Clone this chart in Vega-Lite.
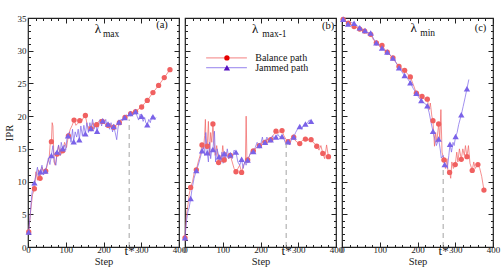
{
"$schema": "https://vega.github.io/schema/vega-lite/v6.json",
"padding": {"top": 13, "left": 3, "right": 5, "bottom": 0},
"bounds": "flush",
"spacing": 6,
"config": {
  "view": {"stroke": "#222", "strokeWidth": 1.2},
  "axis": {"labelFont": "Liberation Serif", "titleFont": "Liberation Serif", "labelFontSize": 9, "titleFontSize": 10.5, "titleFontWeight": "normal", "labelFontWeight": "normal", "labelColor": "#222", "titleColor": "#222", "tickColor": "#222", "grid": false, "domain": false},
  "text": {"font": "Liberation Serif", "color": "#111", "fontWeight": "normal"}
},
"datasets": {
"d": [
{"p":"a","s":"Balance","x":2,"y":2.3,"m":1},{"p":"a","s":"Balance","x":7,"y":5.5,"m":0},{"p":"a","s":"Balance","x":12,"y":8,"m":0},{"p":"a","s":"Balance","x":17,"y":8.9,"m":1},{"p":"a","s":"Balance","x":21,"y":11.5,"m":0},{"p":"a","s":"Balance","x":25,"y":10.2,"m":0},{"p":"a","s":"Balance","x":28,"y":11.8,"m":0},{"p":"a","s":"Balance","x":32,"y":10.5,"m":1},{"p":"a","s":"Balance","x":37,"y":12.2,"m":0},{"p":"a","s":"Balance","x":42,"y":11.5,"m":0},{"p":"a","s":"Balance","x":47,"y":11.6,"m":1},{"p":"a","s":"Balance","x":52,"y":12.8,"m":0},{"p":"a","s":"Balance","x":56,"y":13.5,"m":0},{"p":"a","s":"Balance","x":59,"y":16,"m":0},{"p":"a","s":"Balance","x":62,"y":16.1,"m":1},{"p":"a","s":"Balance","x":64,"y":19,"m":0},{"p":"a","s":"Balance","x":66,"y":18.5,"m":0},{"p":"a","s":"Balance","x":69,"y":13,"m":0},{"p":"a","s":"Balance","x":72,"y":12.5,"m":0},{"p":"a","s":"Balance","x":77,"y":14.2,"m":1},{"p":"a","s":"Balance","x":81,"y":15.5,"m":0},{"p":"a","s":"Balance","x":86,"y":14,"m":0},{"p":"a","s":"Balance","x":92,"y":14.7,"m":1},{"p":"a","s":"Balance","x":97,"y":16,"m":0},{"p":"a","s":"Balance","x":102,"y":15.2,"m":0},{"p":"a","s":"Balance","x":107,"y":17,"m":1},{"p":"a","s":"Balance","x":112,"y":18,"m":0},{"p":"a","s":"Balance","x":117,"y":18.6,"m":0},{"p":"a","s":"Balance","x":122,"y":19.4,"m":1},{"p":"a","s":"Balance","x":127,"y":18.6,"m":0},{"p":"a","s":"Balance","x":132,"y":18.9,"m":0},{"p":"a","s":"Balance","x":137,"y":19.3,"m":1},{"p":"a","s":"Balance","x":142,"y":19.2,"m":0},{"p":"a","s":"Balance","x":147,"y":19.8,"m":0},{"p":"a","s":"Balance","x":152,"y":20.1,"m":1},{"p":"a","s":"Balance","x":157,"y":18.6,"m":0},{"p":"a","s":"Balance","x":162,"y":18.2,"m":0},{"p":"a","s":"Balance","x":167,"y":18.1,"m":1},{"p":"a","s":"Balance","x":172,"y":19,"m":0},{"p":"a","s":"Balance","x":177,"y":18.3,"m":0},{"p":"a","s":"Balance","x":182,"y":18.7,"m":1},{"p":"a","s":"Balance","x":187,"y":19.2,"m":0},{"p":"a","s":"Balance","x":192,"y":19.5,"m":0},{"p":"a","s":"Balance","x":197,"y":19.2,"m":1},{"p":"a","s":"Balance","x":202,"y":18.9,"m":0},{"p":"a","s":"Balance","x":207,"y":18.6,"m":0},{"p":"a","s":"Balance","x":212,"y":18.6,"m":1},{"p":"a","s":"Balance","x":217,"y":18.4,"m":0},{"p":"a","s":"Balance","x":222,"y":18.2,"m":0},{"p":"a","s":"Balance","x":227,"y":18.3,"m":1},{"p":"a","s":"Balance","x":232,"y":18.5,"m":0},{"p":"a","s":"Balance","x":237,"y":18.8,"m":0},{"p":"a","s":"Balance","x":242,"y":19,"m":1},{"p":"a","s":"Balance","x":247,"y":19.4,"m":0},{"p":"a","s":"Balance","x":252,"y":19.6,"m":0},{"p":"a","s":"Balance","x":257,"y":19.8,"m":1},{"p":"a","s":"Balance","x":262,"y":20,"m":0},{"p":"a","s":"Balance","x":267,"y":20.2,"m":0},{"p":"a","s":"Balance","x":272,"y":20.4,"m":1},{"p":"a","s":"Balance","x":278,"y":20.5,"m":0},{"p":"a","s":"Balance","x":285,"y":20.7,"m":1},{"p":"a","s":"Balance","x":291,"y":21,"m":0},{"p":"a","s":"Balance","x":301,"y":21.4,"m":1},{"p":"a","s":"Balance","x":308,"y":21.9,"m":0},{"p":"a","s":"Balance","x":316,"y":22.4,"m":1},{"p":"a","s":"Balance","x":331,"y":23.6,"m":1},{"p":"a","s":"Balance","x":346,"y":24.7,"m":1},{"p":"a","s":"Balance","x":361,"y":25.9,"m":1},{"p":"a","s":"Balance","x":376,"y":27.1,"m":1},
{"p":"a","s":"Jammed","x":2,"y":2.3,"m":1},{"p":"a","s":"Jammed","x":6,"y":5,"m":0},{"p":"a","s":"Jammed","x":10,"y":8,"m":0},{"p":"a","s":"Jammed","x":14,"y":9.5,"m":0},{"p":"a","s":"Jammed","x":17,"y":9.8,"m":1},{"p":"a","s":"Jammed","x":21,"y":11,"m":0},{"p":"a","s":"Jammed","x":25,"y":12.2,"m":0},{"p":"a","s":"Jammed","x":29,"y":10.5,"m":0},{"p":"a","s":"Jammed","x":33,"y":11.5,"m":1},{"p":"a","s":"Jammed","x":37,"y":12.5,"m":0},{"p":"a","s":"Jammed","x":41,"y":11,"m":0},{"p":"a","s":"Jammed","x":46,"y":11.6,"m":1},{"p":"a","s":"Jammed","x":50,"y":12.5,"m":0},{"p":"a","s":"Jammed","x":54,"y":13.6,"m":0},{"p":"a","s":"Jammed","x":58,"y":12.6,"m":0},{"p":"a","s":"Jammed","x":62,"y":14,"m":1},{"p":"a","s":"Jammed","x":66,"y":15.5,"m":0},{"p":"a","s":"Jammed","x":70,"y":13,"m":0},{"p":"a","s":"Jammed","x":74,"y":12.5,"m":0},{"p":"a","s":"Jammed","x":77,"y":14.5,"m":1},{"p":"a","s":"Jammed","x":81,"y":15.6,"m":0},{"p":"a","s":"Jammed","x":85,"y":14,"m":0},{"p":"a","s":"Jammed","x":88,"y":16,"m":0},{"p":"a","s":"Jammed","x":92,"y":15,"m":1},{"p":"a","s":"Jammed","x":96,"y":15.6,"m":0},{"p":"a","s":"Jammed","x":100,"y":14.8,"m":0},{"p":"a","s":"Jammed","x":103,"y":16.5,"m":0},{"p":"a","s":"Jammed","x":106,"y":17,"m":1},{"p":"a","s":"Jammed","x":110,"y":17.6,"m":0},{"p":"a","s":"Jammed","x":114,"y":16,"m":0},{"p":"a","s":"Jammed","x":118,"y":18,"m":0},{"p":"a","s":"Jammed","x":121,"y":16.1,"m":1},{"p":"a","s":"Jammed","x":125,"y":17.6,"m":0},{"p":"a","s":"Jammed","x":129,"y":16.8,"m":0},{"p":"a","s":"Jammed","x":133,"y":18,"m":0},{"p":"a","s":"Jammed","x":136,"y":16.4,"m":1},{"p":"a","s":"Jammed","x":140,"y":18.5,"m":0},{"p":"a","s":"Jammed","x":144,"y":17,"m":0},{"p":"a","s":"Jammed","x":148,"y":18.6,"m":0},{"p":"a","s":"Jammed","x":152,"y":17.3,"m":1},{"p":"a","s":"Jammed","x":156,"y":19,"m":0},{"p":"a","s":"Jammed","x":160,"y":17.5,"m":0},{"p":"a","s":"Jammed","x":164,"y":19,"m":0},{"p":"a","s":"Jammed","x":167,"y":18.1,"m":1},{"p":"a","s":"Jammed","x":171,"y":19.5,"m":0},{"p":"a","s":"Jammed","x":175,"y":18,"m":0},{"p":"a","s":"Jammed","x":179,"y":19,"m":0},{"p":"a","s":"Jammed","x":183,"y":17.7,"m":1},{"p":"a","s":"Jammed","x":187,"y":18.6,"m":0},{"p":"a","s":"Jammed","x":191,"y":19.5,"m":0},{"p":"a","s":"Jammed","x":195,"y":18.5,"m":0},{"p":"a","s":"Jammed","x":198,"y":19.3,"m":1},{"p":"a","s":"Jammed","x":202,"y":18.8,"m":0},{"p":"a","s":"Jammed","x":206,"y":19.5,"m":0},{"p":"a","s":"Jammed","x":209,"y":18.5,"m":0},{"p":"a","s":"Jammed","x":212,"y":18.8,"m":1},{"p":"a","s":"Jammed","x":216,"y":18,"m":0},{"p":"a","s":"Jammed","x":220,"y":19,"m":0},{"p":"a","s":"Jammed","x":224,"y":17.6,"m":0},{"p":"a","s":"Jammed","x":227,"y":18.4,"m":1},{"p":"a","s":"Jammed","x":231,"y":17.5,"m":0},{"p":"a","s":"Jammed","x":235,"y":16.4,"m":0},{"p":"a","s":"Jammed","x":238,"y":18,"m":0},{"p":"a","s":"Jammed","x":241,"y":19.1,"m":1},{"p":"a","s":"Jammed","x":246,"y":19.5,"m":0},{"p":"a","s":"Jammed","x":251,"y":19.3,"m":0},{"p":"a","s":"Jammed","x":256,"y":19.8,"m":1},{"p":"a","s":"Jammed","x":261,"y":20.2,"m":0},{"p":"a","s":"Jammed","x":266,"y":20,"m":0},{"p":"a","s":"Jammed","x":271,"y":20.4,"m":1},{"p":"a","s":"Jammed","x":276,"y":20.5,"m":0},{"p":"a","s":"Jammed","x":280,"y":20.2,"m":0},{"p":"a","s":"Jammed","x":285,"y":20.7,"m":1},{"p":"a","s":"Jammed","x":289,"y":20,"m":0},{"p":"a","s":"Jammed","x":293,"y":19.4,"m":0},{"p":"a","s":"Jammed","x":297,"y":20.3,"m":0},{"p":"a","s":"Jammed","x":301,"y":20,"m":1},{"p":"a","s":"Jammed","x":305,"y":19.2,"m":0},{"p":"a","s":"Jammed","x":309,"y":19.8,"m":0},{"p":"a","s":"Jammed","x":312,"y":19,"m":0},{"p":"a","s":"Jammed","x":316,"y":18.7,"m":1},{"p":"a","s":"Jammed","x":320,"y":19.5,"m":0},{"p":"a","s":"Jammed","x":324,"y":19,"m":0},{"p":"a","s":"Jammed","x":328,"y":20,"m":0},{"p":"a","s":"Jammed","x":331,"y":19.9,"m":1},{"p":"a","s":"Jammed","x":335,"y":19.5,"m":0},{"p":"a","s":"Jammed","x":339,"y":19.8,"m":0},
{"p":"b","s":"Balance","x":0,"y":1.4,"m":1},{"p":"b","s":"Balance","x":4,"y":5,"m":0},{"p":"b","s":"Balance","x":8,"y":6.5,"m":0},{"p":"b","s":"Balance","x":11,"y":8,"m":0},{"p":"b","s":"Balance","x":15,"y":9.1,"m":1},{"p":"b","s":"Balance","x":20,"y":10,"m":0},{"p":"b","s":"Balance","x":25,"y":11.5,"m":0},{"p":"b","s":"Balance","x":30,"y":11.8,"m":1},{"p":"b","s":"Balance","x":35,"y":13,"m":0},{"p":"b","s":"Balance","x":40,"y":14,"m":0},{"p":"b","s":"Balance","x":45,"y":15.6,"m":1},{"p":"b","s":"Balance","x":49,"y":15,"m":0},{"p":"b","s":"Balance","x":52,"y":17,"m":0},{"p":"b","s":"Balance","x":54,"y":19.5,"m":0},{"p":"b","s":"Balance","x":56,"y":15,"m":0},{"p":"b","s":"Balance","x":59,"y":15.4,"m":1},{"p":"b","s":"Balance","x":62,"y":19.2,"m":0},{"p":"b","s":"Balance","x":65,"y":14,"m":0},{"p":"b","s":"Balance","x":68,"y":17.5,"m":0},{"p":"b","s":"Balance","x":71,"y":16,"m":0},{"p":"b","s":"Balance","x":74,"y":18.8,"m":1},{"p":"b","s":"Balance","x":77,"y":16,"m":0},{"p":"b","s":"Balance","x":80,"y":14,"m":0},{"p":"b","s":"Balance","x":84,"y":15.5,"m":0},{"p":"b","s":"Balance","x":89,"y":12.9,"m":1},{"p":"b","s":"Balance","x":93,"y":14,"m":0},{"p":"b","s":"Balance","x":96,"y":13,"m":0},{"p":"b","s":"Balance","x":100,"y":15.5,"m":0},{"p":"b","s":"Balance","x":104,"y":13.3,"m":1},{"p":"b","s":"Balance","x":108,"y":14.5,"m":0},{"p":"b","s":"Balance","x":112,"y":14,"m":0},{"p":"b","s":"Balance","x":116,"y":13.5,"m":0},{"p":"b","s":"Balance","x":120,"y":14,"m":1},{"p":"b","s":"Balance","x":125,"y":13,"m":0},{"p":"b","s":"Balance","x":130,"y":12,"m":0},{"p":"b","s":"Balance","x":135,"y":11.5,"m":1},{"p":"b","s":"Balance","x":140,"y":12,"m":0},{"p":"b","s":"Balance","x":145,"y":12.5,"m":0},{"p":"b","s":"Balance","x":150,"y":11.4,"m":1},{"p":"b","s":"Balance","x":155,"y":12.5,"m":0},{"p":"b","s":"Balance","x":160,"y":13,"m":0},{"p":"b","s":"Balance","x":162,"y":20,"m":0},{"p":"b","s":"Balance","x":164,"y":13.5,"m":0},{"p":"b","s":"Balance","x":166,"y":13.3,"m":1},{"p":"b","s":"Balance","x":171,"y":14,"m":0},{"p":"b","s":"Balance","x":176,"y":14.5,"m":0},{"p":"b","s":"Balance","x":181,"y":14.7,"m":1},{"p":"b","s":"Balance","x":186,"y":15,"m":0},{"p":"b","s":"Balance","x":191,"y":15.3,"m":0},{"p":"b","s":"Balance","x":197,"y":15.5,"m":1},{"p":"b","s":"Balance","x":202,"y":15.8,"m":0},{"p":"b","s":"Balance","x":207,"y":16.2,"m":0},{"p":"b","s":"Balance","x":212,"y":16,"m":1},{"p":"b","s":"Balance","x":217,"y":16.5,"m":0},{"p":"b","s":"Balance","x":222,"y":16.2,"m":0},{"p":"b","s":"Balance","x":227,"y":16.4,"m":1},{"p":"b","s":"Balance","x":232,"y":17,"m":0},{"p":"b","s":"Balance","x":236,"y":17.2,"m":0},{"p":"b","s":"Balance","x":241,"y":17.7,"m":1},{"p":"b","s":"Balance","x":246,"y":17.4,"m":0},{"p":"b","s":"Balance","x":251,"y":17.6,"m":0},{"p":"b","s":"Balance","x":257,"y":17.8,"m":1},{"p":"b","s":"Balance","x":262,"y":17,"m":0},{"p":"b","s":"Balance","x":267,"y":16.5,"m":0},{"p":"b","s":"Balance","x":273,"y":16.1,"m":1},{"p":"b","s":"Balance","x":278,"y":16.5,"m":0},{"p":"b","s":"Balance","x":283,"y":16.6,"m":0},{"p":"b","s":"Balance","x":288,"y":16.8,"m":1},{"p":"b","s":"Balance","x":293,"y":16.2,"m":0},{"p":"b","s":"Balance","x":298,"y":16,"m":0},{"p":"b","s":"Balance","x":304,"y":15.8,"m":1},{"p":"b","s":"Balance","x":309,"y":16.2,"m":0},{"p":"b","s":"Balance","x":314,"y":16.4,"m":0},{"p":"b","s":"Balance","x":319,"y":16.5,"m":1},{"p":"b","s":"Balance","x":324,"y":16.3,"m":0},{"p":"b","s":"Balance","x":329,"y":16.5,"m":0},{"p":"b","s":"Balance","x":334,"y":16.4,"m":1},{"p":"b","s":"Balance","x":339,"y":16,"m":0},{"p":"b","s":"Balance","x":344,"y":15.8,"m":0},{"p":"b","s":"Balance","x":349,"y":15.4,"m":1},{"p":"b","s":"Balance","x":355,"y":14.8,"m":0},{"p":"b","s":"Balance","x":360,"y":15.5,"m":0},{"p":"b","s":"Balance","x":365,"y":14.3,"m":1},{"p":"b","s":"Balance","x":370,"y":13.5,"m":0},{"p":"b","s":"Balance","x":375,"y":15.6,"m":0},{"p":"b","s":"Balance","x":380,"y":13.8,"m":1},
{"p":"b","s":"Jammed","x":0,"y":1.4,"m":1},{"p":"b","s":"Jammed","x":4,"y":4,"m":0},{"p":"b","s":"Jammed","x":8,"y":5.5,"m":0},{"p":"b","s":"Jammed","x":11,"y":6,"m":0},{"p":"b","s":"Jammed","x":15,"y":7.4,"m":1},{"p":"b","s":"Jammed","x":19,"y":9,"m":0},{"p":"b","s":"Jammed","x":24,"y":10.5,"m":0},{"p":"b","s":"Jammed","x":30,"y":11.7,"m":1},{"p":"b","s":"Jammed","x":35,"y":12.5,"m":0},{"p":"b","s":"Jammed","x":40,"y":13.5,"m":0},{"p":"b","s":"Jammed","x":45,"y":14.7,"m":1},{"p":"b","s":"Jammed","x":49,"y":15.5,"m":0},{"p":"b","s":"Jammed","x":52,"y":14,"m":0},{"p":"b","s":"Jammed","x":55,"y":17.5,"m":0},{"p":"b","s":"Jammed","x":59,"y":14.4,"m":1},{"p":"b","s":"Jammed","x":62,"y":13,"m":0},{"p":"b","s":"Jammed","x":65,"y":16,"m":0},{"p":"b","s":"Jammed","x":68,"y":13.5,"m":0},{"p":"b","s":"Jammed","x":71,"y":15,"m":0},{"p":"b","s":"Jammed","x":74,"y":14.9,"m":1},{"p":"b","s":"Jammed","x":78,"y":17.7,"m":0},{"p":"b","s":"Jammed","x":81,"y":13,"m":0},{"p":"b","s":"Jammed","x":85,"y":15,"m":0},{"p":"b","s":"Jammed","x":90,"y":13.8,"m":1},{"p":"b","s":"Jammed","x":94,"y":12.8,"m":0},{"p":"b","s":"Jammed","x":98,"y":14.5,"m":0},{"p":"b","s":"Jammed","x":101,"y":12.8,"m":0},{"p":"b","s":"Jammed","x":104,"y":14.3,"m":1},{"p":"b","s":"Jammed","x":108,"y":13.5,"m":0},{"p":"b","s":"Jammed","x":112,"y":15,"m":0},{"p":"b","s":"Jammed","x":116,"y":13.5,"m":0},{"p":"b","s":"Jammed","x":120,"y":14.1,"m":1},{"p":"b","s":"Jammed","x":125,"y":13.5,"m":0},{"p":"b","s":"Jammed","x":130,"y":14.8,"m":0},{"p":"b","s":"Jammed","x":135,"y":14.5,"m":1},{"p":"b","s":"Jammed","x":140,"y":13,"m":0},{"p":"b","s":"Jammed","x":145,"y":12.5,"m":0},{"p":"b","s":"Jammed","x":150,"y":13.4,"m":1},{"p":"b","s":"Jammed","x":154,"y":12,"m":0},{"p":"b","s":"Jammed","x":158,"y":13,"m":0},{"p":"b","s":"Jammed","x":162,"y":12.5,"m":0},{"p":"b","s":"Jammed","x":166,"y":13.3,"m":1},{"p":"b","s":"Jammed","x":171,"y":14,"m":0},{"p":"b","s":"Jammed","x":176,"y":14.8,"m":0},{"p":"b","s":"Jammed","x":181,"y":14.6,"m":1},{"p":"b","s":"Jammed","x":186,"y":15.2,"m":0},{"p":"b","s":"Jammed","x":191,"y":16,"m":0},{"p":"b","s":"Jammed","x":197,"y":15.5,"m":1},{"p":"b","s":"Jammed","x":201,"y":15.8,"m":0},{"p":"b","s":"Jammed","x":205,"y":16.8,"m":0},{"p":"b","s":"Jammed","x":209,"y":15.6,"m":0},{"p":"b","s":"Jammed","x":212,"y":16,"m":1},{"p":"b","s":"Jammed","x":217,"y":16.8,"m":0},{"p":"b","s":"Jammed","x":222,"y":16,"m":0},{"p":"b","s":"Jammed","x":227,"y":16.4,"m":1},{"p":"b","s":"Jammed","x":232,"y":17,"m":0},{"p":"b","s":"Jammed","x":236,"y":16.5,"m":0},{"p":"b","s":"Jammed","x":241,"y":16.8,"m":1},{"p":"b","s":"Jammed","x":246,"y":17.2,"m":0},{"p":"b","s":"Jammed","x":251,"y":16.8,"m":0},{"p":"b","s":"Jammed","x":257,"y":16.9,"m":1},{"p":"b","s":"Jammed","x":262,"y":16.5,"m":0},{"p":"b","s":"Jammed","x":267,"y":15.8,"m":0},{"p":"b","s":"Jammed","x":273,"y":16.1,"m":1},{"p":"b","s":"Jammed","x":277,"y":15.6,"m":0},{"p":"b","s":"Jammed","x":282,"y":16.4,"m":0},{"p":"b","s":"Jammed","x":288,"y":16.8,"m":1},{"p":"b","s":"Jammed","x":293,"y":17.5,"m":0},{"p":"b","s":"Jammed","x":298,"y":18,"m":0},{"p":"b","s":"Jammed","x":304,"y":18.4,"m":1},{"p":"b","s":"Jammed","x":309,"y":18,"m":0},{"p":"b","s":"Jammed","x":314,"y":18.6,"m":0},{"p":"b","s":"Jammed","x":319,"y":18.8,"m":1},{"p":"b","s":"Jammed","x":324,"y":18.9,"m":0},{"p":"b","s":"Jammed","x":329,"y":19.4,"m":0},{"p":"b","s":"Jammed","x":334,"y":19.2,"m":1},
{"p":"c","s":"Balance","x":3,"y":34.8,"m":1},{"p":"c","s":"Balance","x":10,"y":34.5,"m":0},{"p":"c","s":"Balance","x":17,"y":34.2,"m":1},{"p":"c","s":"Balance","x":25,"y":34,"m":0},{"p":"c","s":"Balance","x":32,"y":33.7,"m":1},{"p":"c","s":"Balance","x":40,"y":33.5,"m":0},{"p":"c","s":"Balance","x":47,"y":33.3,"m":1},{"p":"c","s":"Balance","x":54,"y":33.2,"m":0},{"p":"c","s":"Balance","x":60,"y":33,"m":1},{"p":"c","s":"Balance","x":68,"y":32.5,"m":0},{"p":"c","s":"Balance","x":76,"y":32.5,"m":1},{"p":"c","s":"Balance","x":84,"y":31.6,"m":0},{"p":"c","s":"Balance","x":91,"y":31.2,"m":1},{"p":"c","s":"Balance","x":98,"y":31,"m":0},{"p":"c","s":"Balance","x":106,"y":30.8,"m":1},{"p":"c","s":"Balance","x":113,"y":30.2,"m":0},{"p":"c","s":"Balance","x":120,"y":29.8,"m":1},{"p":"c","s":"Balance","x":128,"y":29.3,"m":0},{"p":"c","s":"Balance","x":135,"y":28.9,"m":1},{"p":"c","s":"Balance","x":143,"y":28.2,"m":0},{"p":"c","s":"Balance","x":151,"y":27.6,"m":1},{"p":"c","s":"Balance","x":158,"y":27.3,"m":0},{"p":"c","s":"Balance","x":166,"y":27,"m":1},{"p":"c","s":"Balance","x":173,"y":26.5,"m":0},{"p":"c","s":"Balance","x":181,"y":26,"m":1},{"p":"c","s":"Balance","x":189,"y":24.8,"m":0},{"p":"c","s":"Balance","x":197,"y":23.5,"m":1},{"p":"c","s":"Balance","x":204,"y":23.3,"m":0},{"p":"c","s":"Balance","x":212,"y":23,"m":1},{"p":"c","s":"Balance","x":219,"y":22.6,"m":0},{"p":"c","s":"Balance","x":226,"y":22.6,"m":1},{"p":"c","s":"Balance","x":231,"y":21,"m":0},{"p":"c","s":"Balance","x":234,"y":22,"m":0},{"p":"c","s":"Balance","x":238,"y":20,"m":0},{"p":"c","s":"Balance","x":241,"y":19.3,"m":1},{"p":"c","s":"Balance","x":245,"y":15.4,"m":0},{"p":"c","s":"Balance","x":248,"y":17.5,"m":0},{"p":"c","s":"Balance","x":251,"y":16,"m":0},{"p":"c","s":"Balance","x":256,"y":18.8,"m":1},{"p":"c","s":"Balance","x":259,"y":16.5,"m":0},{"p":"c","s":"Balance","x":262,"y":21,"m":0},{"p":"c","s":"Balance","x":265,"y":14.5,"m":0},{"p":"c","s":"Balance","x":270,"y":13.3,"m":1},{"p":"c","s":"Balance","x":274,"y":12,"m":0},{"p":"c","s":"Balance","x":278,"y":13.5,"m":0},{"p":"c","s":"Balance","x":281,"y":11.5,"m":0},{"p":"c","s":"Balance","x":285,"y":11.4,"m":1},{"p":"c","s":"Balance","x":288,"y":10.5,"m":0},{"p":"c","s":"Balance","x":291,"y":13,"m":0},{"p":"c","s":"Balance","x":295,"y":12,"m":0},{"p":"c","s":"Balance","x":300,"y":12.6,"m":1},{"p":"c","s":"Balance","x":304,"y":14.5,"m":0},{"p":"c","s":"Balance","x":307,"y":13,"m":0},{"p":"c","s":"Balance","x":311,"y":15,"m":0},{"p":"c","s":"Balance","x":316,"y":13.4,"m":1},{"p":"c","s":"Balance","x":320,"y":15,"m":0},{"p":"c","s":"Balance","x":324,"y":14,"m":0},{"p":"c","s":"Balance","x":327,"y":15.5,"m":0},{"p":"c","s":"Balance","x":331,"y":13.8,"m":1},{"p":"c","s":"Balance","x":335,"y":15.5,"m":0},{"p":"c","s":"Balance","x":339,"y":12.8,"m":0},{"p":"c","s":"Balance","x":345,"y":11.7,"m":1},{"p":"c","s":"Balance","x":349,"y":13,"m":0},{"p":"c","s":"Balance","x":353,"y":12,"m":0},{"p":"c","s":"Balance","x":360,"y":12.6,"m":1},{"p":"c","s":"Balance","x":365,"y":12,"m":0},{"p":"c","s":"Balance","x":370,"y":10.8,"m":0},{"p":"c","s":"Balance","x":376,"y":8.7,"m":1},
{"p":"c","s":"Jammed","x":3,"y":34.8,"m":1},{"p":"c","s":"Jammed","x":10,"y":34.6,"m":0},{"p":"c","s":"Jammed","x":16,"y":34.1,"m":1},{"p":"c","s":"Jammed","x":24,"y":34.3,"m":0},{"p":"c","s":"Jammed","x":32,"y":34.2,"m":1},{"p":"c","s":"Jammed","x":40,"y":33.8,"m":0},{"p":"c","s":"Jammed","x":47,"y":33.5,"m":1},{"p":"c","s":"Jammed","x":54,"y":33.3,"m":0},{"p":"c","s":"Jammed","x":61,"y":33.1,"m":1},{"p":"c","s":"Jammed","x":68,"y":32.8,"m":0},{"p":"c","s":"Jammed","x":76,"y":32.7,"m":1},{"p":"c","s":"Jammed","x":84,"y":31.8,"m":0},{"p":"c","s":"Jammed","x":91,"y":31.2,"m":1},{"p":"c","s":"Jammed","x":98,"y":30.8,"m":0},{"p":"c","s":"Jammed","x":106,"y":30.4,"m":1},{"p":"c","s":"Jammed","x":113,"y":30.1,"m":0},{"p":"c","s":"Jammed","x":120,"y":29.8,"m":1},{"p":"c","s":"Jammed","x":128,"y":29.3,"m":0},{"p":"c","s":"Jammed","x":135,"y":28.9,"m":1},{"p":"c","s":"Jammed","x":143,"y":28.2,"m":0},{"p":"c","s":"Jammed","x":151,"y":27.4,"m":1},{"p":"c","s":"Jammed","x":158,"y":26.8,"m":0},{"p":"c","s":"Jammed","x":166,"y":26.2,"m":1},{"p":"c","s":"Jammed","x":173,"y":25.8,"m":0},{"p":"c","s":"Jammed","x":181,"y":25.1,"m":1},{"p":"c","s":"Jammed","x":189,"y":24.2,"m":0},{"p":"c","s":"Jammed","x":197,"y":23.5,"m":1},{"p":"c","s":"Jammed","x":204,"y":22.8,"m":0},{"p":"c","s":"Jammed","x":210,"y":22.4,"m":1},{"p":"c","s":"Jammed","x":218,"y":22,"m":0},{"p":"c","s":"Jammed","x":226,"y":21.6,"m":1},{"p":"c","s":"Jammed","x":231,"y":20.5,"m":0},{"p":"c","s":"Jammed","x":236,"y":19,"m":0},{"p":"c","s":"Jammed","x":241,"y":17.7,"m":1},{"p":"c","s":"Jammed","x":246,"y":16.5,"m":0},{"p":"c","s":"Jammed","x":250,"y":15.5,"m":0},{"p":"c","s":"Jammed","x":256,"y":16.5,"m":1},{"p":"c","s":"Jammed","x":260,"y":15,"m":0},{"p":"c","s":"Jammed","x":263,"y":13.6,"m":0},{"p":"c","s":"Jammed","x":268,"y":14,"m":0},{"p":"c","s":"Jammed","x":272,"y":12.6,"m":1},{"p":"c","s":"Jammed","x":276,"y":12.5,"m":0},{"p":"c","s":"Jammed","x":279,"y":12,"m":0},{"p":"c","s":"Jammed","x":283,"y":14,"m":0},{"p":"c","s":"Jammed","x":286,"y":15.7,"m":1},{"p":"c","s":"Jammed","x":290,"y":14.5,"m":0},{"p":"c","s":"Jammed","x":294,"y":16,"m":0},{"p":"c","s":"Jammed","x":297,"y":15.5,"m":0},{"p":"c","s":"Jammed","x":301,"y":16.9,"m":1},{"p":"c","s":"Jammed","x":305,"y":17.5,"m":0},{"p":"c","s":"Jammed","x":309,"y":18.7,"m":0},{"p":"c","s":"Jammed","x":316,"y":20.2,"m":1},{"p":"c","s":"Jammed","x":321,"y":21.5,"m":0},{"p":"c","s":"Jammed","x":326,"y":22.8,"m":0},{"p":"c","s":"Jammed","x":331,"y":24.2,"m":1},{"p":"c","s":"Jammed","x":336,"y":25.6,"m":0}
],
"one": [{}]
},
"hconcat": [
{
  "width": 151, "height": 229,
  "data": {"name": "d"},
  "resolve": {"axis": {"x": "independent", "y": "independent"}},
  "layer": [
    {"transform": [{"filter": "datum.p == 'a'"}],
     "mark": {"type": "line", "strokeWidth": 0.7},
     "encoding": {
       "x": {"field": "x", "type": "quantitative", "scale": {"domain": [0, 400], "nice": false},
             "axis": {"orient": "bottom", "title": "Step", "values": [0,20,40,60,80,100,120,140,160,180,200,220,240,260,268,280,300,320,340,360,380,400],
                      "tickSize": {"condition": {"test": "datum.value % 100 == 0", "value": -5}, "value": -2.5},
                      "labelExpr": "datum.value == 268 ? 't*' : (datum.value % 100 == 0 ? datum.label : '')",
                      "labelFontSize": {"condition": {"test": "datum.value == 268", "value": 13}, "value": 9},
                      "labelPadding": {"condition": {"test": "datum.value == 268", "value": 0}, "value": 3},
                      "labelOverlap": false, "labelFlush": false, "titlePadding": -1}},
       "y": {"field": "y", "type": "quantitative", "scale": {"domain": [0, 35], "nice": false},
             "axis": {"orient": "left", "title": "IPR", "values": [0,1,2,3,4,5,6,7,8,9,10,11,12,13,14,15,16,17,18,19,20,21,22,23,24,25,26,27,28,29,30,31,32,33,34,35],
                      "tickSize": {"condition": {"test": "datum.value % 5 == 0", "value": -5}, "value": -2.5},
                      "labelExpr": "datum.value % 5 == 0 ? datum.label : ''",
                      "labelOverlap": false, "labelFlush": false, "labelPadding": 7, "titlePadding": 3}},
       "color": {"field": "s", "type": "nominal", "scale": {"domain": ["Balance", "Jammed"], "range": ["#f06060", "#7a62e8"]}, "legend": null}
     }},
    {"transform": [{"filter": "datum.p == 'a' && datum.m == 1"}],
     "mark": {"type": "point", "filled": true, "opacity": 1},
     "encoding": {
       "x": {"field": "x", "type": "quantitative", "axis": {"orient": "top", "title": null, "labels": false, "values": [0,20,40,60,80,100,120,140,160,180,200,220,240,260,280,300,320,340,360,380,400], "tickSize": {"condition": {"test": "datum.value % 100 == 0", "value": -5}, "value": -2.5}}},
       "y": {"field": "y", "type": "quantitative", "axis": {"orient": "right", "title": null, "labels": false, "values": [0,1,2,3,4,5,6,7,8,9,10,11,12,13,14,15,16,17,18,19,20,21,22,23,24,25,26,27,28,29,30,31,32,33,34,35], "tickSize": {"condition": {"test": "datum.value % 5 == 0", "value": -5}, "value": -2.5}}},
       "color": {"field": "s", "type": "nominal", "scale": {"domain": ["Balance", "Jammed"], "range": ["#e60000", "#5510c0"]}, "legend": null},
       "shape": {"field": "s", "type": "nominal", "scale": {"domain": ["Balance", "Jammed"], "range": ["circle", "triangle-up"]}, "legend": null},
       "size": {"field": "s", "type": "nominal", "scale": {"domain": ["Balance", "Jammed"], "range": [28, 40]}, "legend": null}
     }},
    {"data": {"name": "one"}, "mark": {"type": "rule", "color": "#999", "strokeDash": [5, 4], "strokeWidth": 0.9},
     "encoding": {"x": {"datum": 268, "axis": null}, "y": {"datum": 0, "axis": null}, "y2": {"datum": 19.5}}},
    {"data": {"name": "one"}, "mark": {"type": "text", "text": "λ", "fontSize": 13, "align": "center", "baseline": "middle"},
     "encoding": {"x": {"datum": 185, "axis": null}, "y": {"datum": 33.3, "axis": null}}},
    {"data": {"name": "one"}, "mark": {"type": "text", "text": "max", "fontSize": 9.5, "align": "center", "baseline": "middle"},
     "encoding": {"x": {"datum": 220, "axis": null}, "y": {"datum": 32.6, "axis": null}}},
    {"data": {"name": "one"}, "mark": {"type": "text", "text": "(a)", "fontSize": 10.5, "align": "center", "baseline": "middle"},
     "encoding": {"x": {"datum": 355, "axis": null}, "y": {"datum": 33.9, "axis": null}}}
  ]
},
{
  "width": 151, "height": 229,
  "data": {"name": "d"},
  "resolve": {"axis": {"x": "independent", "y": "independent"}},
  "layer": [
    {"transform": [{"filter": "datum.p == 'b'"}],
     "mark": {"type": "line", "strokeWidth": 0.7},
     "encoding": {
       "x": {"field": "x", "type": "quantitative", "scale": {"domain": [0, 400], "nice": false},
             "axis": {"orient": "bottom", "title": "Step", "values": [0,20,40,60,80,100,120,140,160,180,200,220,240,260,268,280,300,320,340,360,380,400],
                      "tickSize": {"condition": {"test": "datum.value % 100 == 0", "value": -5}, "value": -2.5},
                      "labelExpr": "datum.value == 268 ? 't*' : (datum.value % 100 == 0 ? datum.label : '')",
                      "labelFontSize": {"condition": {"test": "datum.value == 268", "value": 13}, "value": 9},
                      "labelPadding": {"condition": {"test": "datum.value == 268", "value": 0}, "value": 3},
                      "labelOverlap": false, "labelFlush": false, "titlePadding": -1}},
       "y": {"field": "y", "type": "quantitative", "scale": {"domain": [0, 35], "nice": false},
             "axis": {"orient": "left", "title": null, "labels": false, "values": [0,1,2,3,4,5,6,7,8,9,10,11,12,13,14,15,16,17,18,19,20,21,22,23,24,25,26,27,28,29,30,31,32,33,34,35],
                      "tickSize": {"condition": {"test": "datum.value % 5 == 0", "value": -5}, "value": -2.5}}},
       "color": {"field": "s", "type": "nominal", "scale": {"domain": ["Balance", "Jammed"], "range": ["#f06060", "#7a62e8"]}, "legend": null}
     }},
    {"transform": [{"filter": "datum.p == 'b' && datum.m == 1"}],
     "mark": {"type": "point", "filled": true, "opacity": 1},
     "encoding": {
       "x": {"field": "x", "type": "quantitative", "axis": {"orient": "top", "title": null, "labels": false, "values": [0,20,40,60,80,100,120,140,160,180,200,220,240,260,280,300,320,340,360,380,400], "tickSize": {"condition": {"test": "datum.value % 100 == 0", "value": -5}, "value": -2.5}}},
       "y": {"field": "y", "type": "quantitative", "axis": {"orient": "right", "title": null, "labels": false, "values": [0,1,2,3,4,5,6,7,8,9,10,11,12,13,14,15,16,17,18,19,20,21,22,23,24,25,26,27,28,29,30,31,32,33,34,35], "tickSize": {"condition": {"test": "datum.value % 5 == 0", "value": -5}, "value": -2.5}}},
       "color": {"field": "s", "type": "nominal", "scale": {"domain": ["Balance", "Jammed"], "range": ["#e60000", "#5510c0"]}, "legend": null},
       "shape": {"field": "s", "type": "nominal", "scale": {"domain": ["Balance", "Jammed"], "range": ["circle", "triangle-up"]}, "legend": null},
       "size": {"field": "s", "type": "nominal", "scale": {"domain": ["Balance", "Jammed"], "range": [28, 40]}, "legend": null}
     }},
    {"data": {"name": "one"}, "mark": {"type": "rule", "color": "#999", "strokeDash": [5, 4], "strokeWidth": 0.9},
     "encoding": {"x": {"datum": 268, "axis": null}, "y": {"datum": 0, "axis": null}, "y2": {"datum": 15.8}}},
    {"data": {"name": "one"}, "mark": {"type": "text", "text": "λ", "fontSize": 13, "align": "center", "baseline": "middle"},
     "encoding": {"x": {"datum": 186, "axis": null}, "y": {"datum": 33.3, "axis": null}}},
    {"data": {"name": "one"}, "mark": {"type": "text", "text": "max-1", "fontSize": 9.5, "align": "center", "baseline": "middle"},
     "encoding": {"x": {"datum": 237, "axis": null}, "y": {"datum": 32.5, "axis": null}}},
    {"data": {"name": "one"}, "mark": {"type": "text", "text": "(b)", "fontSize": 10.5, "align": "center", "baseline": "middle"},
     "encoding": {"x": {"datum": 379, "axis": null}, "y": {"datum": 33.8, "axis": null}}},
    {"data": {"name": "one"}, "mark": {"type": "rule", "color": "#f06060", "strokeWidth": 0.8},
     "encoding": {"x": {"datum": 56, "axis": null}, "x2": {"datum": 164}, "y": {"datum": 28.9, "axis": null}}},
    {"data": {"name": "one"}, "mark": {"type": "rule", "color": "#7a62e8", "strokeWidth": 0.8},
     "encoding": {"x": {"datum": 56, "axis": null}, "x2": {"datum": 164}, "y": {"datum": 27.4, "axis": null}}},
    {"data": {"name": "one"}, "mark": {"type": "point", "shape": "circle", "filled": true, "opacity": 1, "size": 28, "color": "#e60000"},
     "encoding": {"x": {"datum": 111, "axis": null}, "y": {"datum": 28.9, "axis": null}}},
    {"data": {"name": "one"}, "mark": {"type": "point", "shape": "triangle-up", "filled": true, "opacity": 1, "size": 40, "color": "#5510c0"},
     "encoding": {"x": {"datum": 111, "axis": null}, "y": {"datum": 27.4, "axis": null}}},
    {"data": {"name": "one"}, "mark": {"type": "text", "text": "Balance path", "fontSize": 10, "align": "left", "baseline": "middle"},
     "encoding": {"x": {"datum": 186, "axis": null}, "y": {"datum": 28.9, "axis": null}}},
    {"data": {"name": "one"}, "mark": {"type": "text", "text": "Jammed path", "fontSize": 10, "align": "left", "baseline": "middle"},
     "encoding": {"x": {"datum": 186, "axis": null}, "y": {"datum": 27.4, "axis": null}}}
  ]
},
{
  "width": 151, "height": 229,
  "data": {"name": "d"},
  "resolve": {"axis": {"x": "independent", "y": "independent"}},
  "layer": [
    {"transform": [{"filter": "datum.p == 'c'"}],
     "mark": {"type": "line", "strokeWidth": 0.7},
     "encoding": {
       "x": {"field": "x", "type": "quantitative", "scale": {"domain": [0, 400], "nice": false},
             "axis": {"orient": "bottom", "title": "Step", "values": [0,20,40,60,80,100,120,140,160,180,200,220,240,260,268,280,300,320,340,360,380,400],
                      "tickSize": {"condition": {"test": "datum.value % 100 == 0", "value": -5}, "value": -2.5},
                      "labelExpr": "datum.value == 268 ? 't*' : (datum.value % 100 == 0 ? datum.label : '')",
                      "labelFontSize": {"condition": {"test": "datum.value == 268", "value": 13}, "value": 9},
                      "labelPadding": {"condition": {"test": "datum.value == 268", "value": 0}, "value": 3},
                      "labelOverlap": false, "labelFlush": false, "titlePadding": -1}},
       "y": {"field": "y", "type": "quantitative", "scale": {"domain": [0, 35], "nice": false},
             "axis": {"orient": "left", "title": null, "labels": false, "values": [0,1,2,3,4,5,6,7,8,9,10,11,12,13,14,15,16,17,18,19,20,21,22,23,24,25,26,27,28,29,30,31,32,33,34,35],
                      "tickSize": {"condition": {"test": "datum.value % 5 == 0", "value": -5}, "value": -2.5}}},
       "color": {"field": "s", "type": "nominal", "scale": {"domain": ["Balance", "Jammed"], "range": ["#f06060", "#7a62e8"]}, "legend": null}
     }},
    {"transform": [{"filter": "datum.p == 'c' && datum.m == 1"}],
     "mark": {"type": "point", "filled": true, "opacity": 1},
     "encoding": {
       "x": {"field": "x", "type": "quantitative", "axis": {"orient": "top", "title": null, "labels": false, "values": [0,20,40,60,80,100,120,140,160,180,200,220,240,260,280,300,320,340,360,380,400], "tickSize": {"condition": {"test": "datum.value % 100 == 0", "value": -5}, "value": -2.5}}},
       "y": {"field": "y", "type": "quantitative", "axis": {"orient": "right", "title": null, "labels": false, "values": [0,1,2,3,4,5,6,7,8,9,10,11,12,13,14,15,16,17,18,19,20,21,22,23,24,25,26,27,28,29,30,31,32,33,34,35], "tickSize": {"condition": {"test": "datum.value % 5 == 0", "value": -5}, "value": -2.5}}},
       "color": {"field": "s", "type": "nominal", "scale": {"domain": ["Balance", "Jammed"], "range": ["#e60000", "#5510c0"]}, "legend": null},
       "shape": {"field": "s", "type": "nominal", "scale": {"domain": ["Balance", "Jammed"], "range": ["circle", "triangle-up"]}, "legend": null},
       "size": {"field": "s", "type": "nominal", "scale": {"domain": ["Balance", "Jammed"], "range": [28, 40]}, "legend": null}
     }},
    {"data": {"name": "one"}, "mark": {"type": "rule", "color": "#999", "strokeDash": [5, 4], "strokeWidth": 0.9},
     "encoding": {"x": {"datum": 268, "axis": null}, "y": {"datum": 0, "axis": null}, "y2": {"datum": 12.2}}},
    {"data": {"name": "one"}, "mark": {"type": "text", "text": "λ", "fontSize": 13, "align": "center", "baseline": "middle"},
     "encoding": {"x": {"datum": 190, "axis": null}, "y": {"datum": 33.4, "axis": null}}},
    {"data": {"name": "one"}, "mark": {"type": "text", "text": "min", "fontSize": 9.5, "align": "center", "baseline": "middle"},
     "encoding": {"x": {"datum": 227, "axis": null}, "y": {"datum": 32.7, "axis": null}}},
    {"data": {"name": "one"}, "mark": {"type": "text", "text": "(c)", "fontSize": 10.5, "align": "center", "baseline": "middle"},
     "encoding": {"x": {"datum": 367, "axis": null}, "y": {"datum": 33.5, "axis": null}}}
  ]
}
]
}
